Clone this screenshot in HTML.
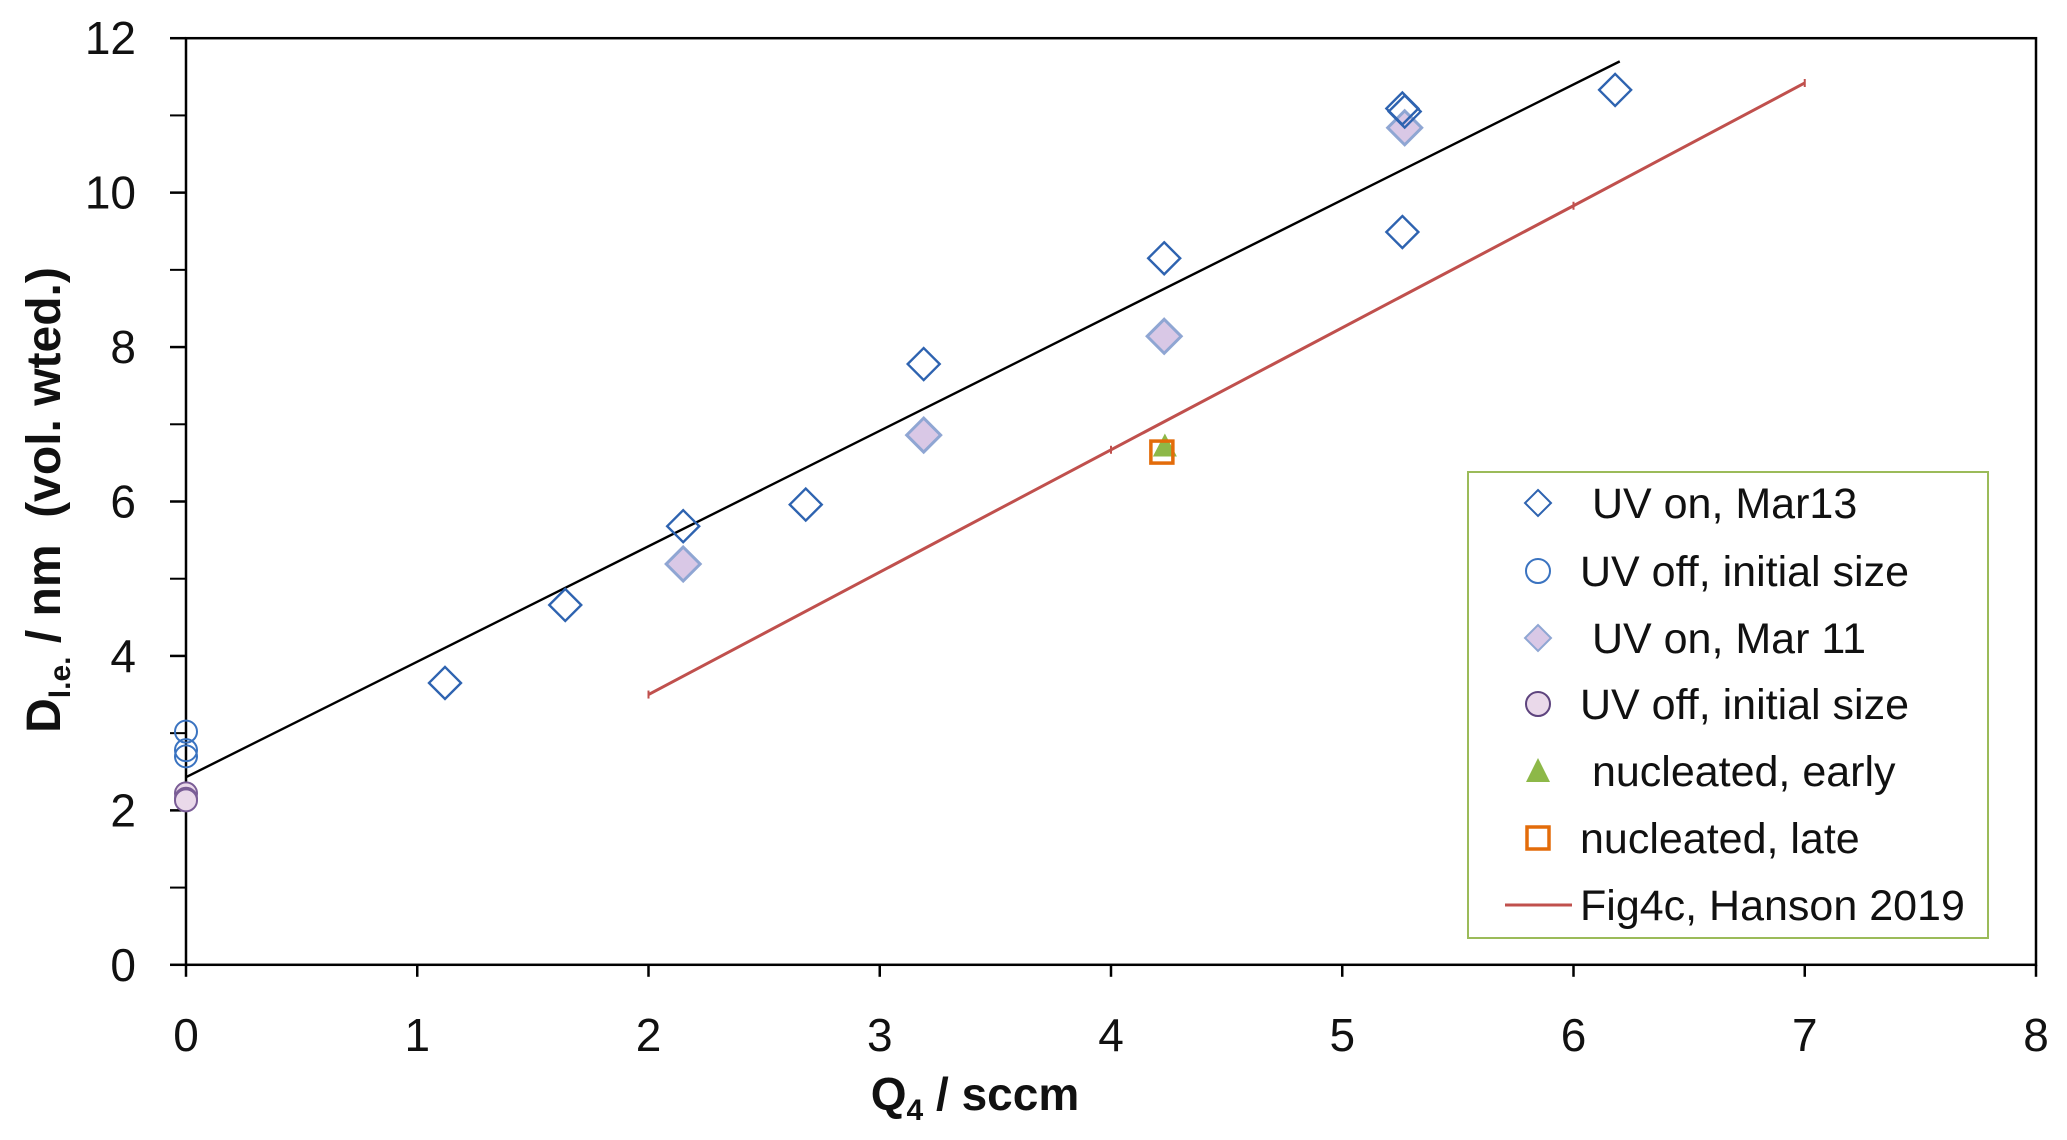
<!DOCTYPE html>
<html><head><meta charset="utf-8"><style>
html,body{margin:0;padding:0;background:#fff;}
svg{display:block;font-family:"Liberation Sans",sans-serif;}
</style></head><body>
<svg id="chart" width="2067" height="1140" viewBox="0 0 2067 1140"></svg>
<script>
const mar13X=[1.12,1.64,2.15,2.68,3.19,4.23,5.26,5.26,5.27,6.18];
const mar13Y=[3.65,4.66,5.68,5.96,7.78,9.15,9.49,11.09,11.05,11.33];
const off1X=[0,0,0];
const off1Y=[3.02,2.78,2.70];
const mar11X=[2.15,3.19,4.23,5.27];
const mar11Y=[5.19,6.86,8.14,10.84];
const off2X=[0,0,0];
const off2Y=[2.22,2.15,2.13];
const earlyX=[4.22];const earlyY=[6.70];
const lateX=[4.22];const lateY=[6.64];
const fitX=[0,6.2];const fitY=[2.43,11.7];
const hansonX=[2,4,6,7];const hansonY=[3.5,6.67,9.83,11.42];
const xTicks=[0,1,2,3,4,5,6,7,8];
const yTicks=[0,2,4,6,8,10,12];
const yMinor=[1,3,5,7,9,11];
const legendLabels=[" UV on, Mar13","UV off, initial size"," UV on, Mar 11","UV off, initial size"," nucleated, early","nucleated, late","Fig4c, Hanson 2019"];

const L=186,R=2036,T=38.2,B=964.8;
const sx=v=>L+(R-L)*v/8, sy=v=>B-(B-T)*v/12;
const svg=document.getElementById('chart');const NS='http://www.w3.org/2000/svg';
function mk(t,a,p){const e=document.createElementNS(NS,t);for(const k in a)e.setAttribute(k,a[k]);(p||svg).appendChild(e);return e;}

let fr=mk('rect',{x:L,y:T,width:R-L,height:B-T,fill:'none',stroke:'#000','stroke-width':2.5});


xTicks.forEach(v=>{
  let t=mk('line',{x1:sx(v),x2:sx(v),y1:B,y2:B+12,stroke:'#000','stroke-width':2.5});
  
  
  let l=mk('text',{x:sx(v),y:1051,'text-anchor':'middle','font-size':46,fill:'#111'});l.textContent=v;
  
  
});
yTicks.forEach(v=>{
  let t=mk('line',{x1:L-16,x2:L,y1:sy(v),y2:sy(v),stroke:'#000','stroke-width':2.5});
  
  
  let l=mk('text',{x:136,y:sy(v)+16,'text-anchor':'end','font-size':46,fill:'#111'});l.textContent=v;
  
  
});
yMinor.forEach(v=>{
  let t=mk('line',{x1:L-16,x2:L,y1:sy(v),y2:sy(v),stroke:'#000','stroke-width':2});
  
  
});
let xt=mk('text',{x:975,y:1110,'text-anchor':'middle','font-size':46,'font-weight':'bold',fill:'#111'});
xt.innerHTML='Q<tspan font-size="30" dy="10">4</tspan><tspan dy="-10"> / sccm</tspan>';


let yt=mk('text',{x:0,y:0,'text-anchor':'middle','font-size':48,'font-weight':'bold',fill:'#111',transform:'translate(60,500) rotate(-90)'});
yt.setAttribute('style','white-space:pre');
yt.innerHTML='D<tspan font-size="30" dy="10">l.e.</tspan><tspan dy="-10"> / nm  (vol. wted.)</tspan>';



function line(xs,ys,col,w,name){
  let p=mk('polyline',{points:xs.map((x,i)=>sx(x)+','+sy(ys[i])).join(' '),fill:'none',stroke:col,'stroke-width':w});
  
  
}
line(fitX,fitY,'#000',2.4,'fit-line');
line(hansonX,hansonY,'#c0504d',3,'hanson-line');
hansonX.forEach((x,i)=>{
  let m=mk('line',{x1:sx(x),x2:sx(x),y1:sy(hansonY[i])-4,y2:sy(hansonY[i])+4,stroke:'#c0504d','stroke-width':2});
  
  
});

function diamond(cx,cy,r,fill,stroke,sw,p){return mk('polygon',{points:`${cx},${cy-r} ${cx+r},${cy} ${cx},${cy+r} ${cx-r},${cy}`,fill,stroke,'stroke-width':sw},p);}
mar11X.forEach((x,i)=>{let e=diamond(sx(x),sy(mar11Y[i]),17,'#d9c8e6','#8fa6d3',3);
  
  });
mar13X.forEach((x,i)=>{let e=diamond(sx(x),sy(mar13Y[i]),16,'none','#2e63b0',2.4);
  
  });
off2X.forEach((x,i)=>{let e=mk('circle',{cx:sx(x),cy:sy(off2Y[i]),r:11,fill:'#ead9ea',stroke:'#7a5d96','stroke-width':2});
  
  });
off1X.forEach((x,i)=>{let e=mk('circle',{cx:sx(x),cy:sy(off1Y[i]),r:11,fill:'none',stroke:'#3a73c0','stroke-width':2});
  
  });
earlyX.forEach((x,i)=>{const cx=sx(x)+3,cy=sy(earlyY[i]);let e=mk('polygon',{points:`${cx},${cy-14} ${cx+12},${cy+9} ${cx-12},${cy+9}`,fill:'#8db848'});
  
  });
lateX.forEach((x,i)=>{let e=mk('rect',{x:sx(x)-11,y:sy(lateY[i])-11,width:22,height:22,fill:'none',stroke:'#e36c0a','stroke-width':3.5});
  
  });

let lg=mk('g',{});


mk('rect',{x:1468,y:472,width:520,height:466,fill:'#fff',stroke:'#9bbb59','stroke-width':2},lg);
const rows=[503,571,638,704,771,838,905],mx=1538;
legendLabels.forEach((s,i)=>{
  const y=rows[i];let g=mk('g',{},lg);
  
  
  if(i==0)diamond(mx,y,13,'none','#2e63b0',2,g);
  if(i==1)mk('circle',{cx:mx,cy:y,r:12,fill:'none',stroke:'#3a73c0','stroke-width':2},g);
  if(i==2)diamond(mx,y,13,'#d9c8e6','#8fa6d3',2,g);
  if(i==3)mk('circle',{cx:mx,cy:y,r:12,fill:'#ead9ea',stroke:'#5e447e','stroke-width':2},g);
  if(i==4)mk('polygon',{points:`${mx},${y-13} ${mx+12},${y+11} ${mx-12},${y+11}`,fill:'#8db848'},g);
  if(i==5)mk('rect',{x:mx-11,y:y-11,width:22,height:22,fill:'none',stroke:'#e36c0a','stroke-width':3.5},g);
  if(i==6){mk('line',{x1:1505,x2:1572,y1:y,y2:y,stroke:'#c0504d','stroke-width':3},g);}
  let t=mk('text',{x:1580,y:y+15,'font-size':43,fill:'#111'},g);
  t.setAttribute('style','white-space:pre');t.textContent=s;
});
</script>
</body></html>
